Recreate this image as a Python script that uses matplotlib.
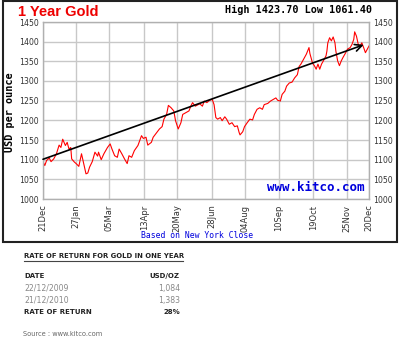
import matplotlib
matplotlib.use("Agg")
import matplotlib.pyplot as plt
from matplotlib.patches import Rectangle
from matplotlib.lines import Line2D

# days since 21 Dec 2009, and the New York close (USD/oz)
days = [0, 2, 4, 7, 9, 12, 15, 18, 20, 22, 25, 27, 29, 31, 32, 35, 37, 40, 43, 46,
        48, 50, 52, 55, 58, 61, 62, 65, 68, 72, 75, 77, 80, 83, 85, 88, 91, 94, 96, 99,
        102, 106, 110, 112, 115, 117, 121, 123, 127, 130, 133, 135, 138, 140, 143, 146,
        148, 151, 154, 156, 160, 163, 165, 167, 170, 175, 178, 180, 183, 186, 189, 191,
        193, 195, 198, 200, 203, 205, 208, 211, 214, 217, 219, 220, 223, 225, 228, 231,
        234, 236, 239, 242, 245, 247, 251, 254, 257, 260, 262, 265, 267, 270, 272, 275,
        278, 281, 284, 286, 288, 294, 297, 298, 301, 303, 305, 307, 309, 311, 313, 316,
        317, 318, 320, 322, 324, 326, 327, 329, 331, 333, 335, 338, 340, 343, 345, 347,
        348, 350, 352, 354, 356, 358, 360, 363, 364]
price = [1095, 1085, 1098, 1104, 1095, 1102, 1115, 1137, 1131, 1152, 1136, 1144, 1127,
         1131, 1102, 1094, 1090, 1083, 1115, 1085, 1064, 1066, 1081, 1095, 1119, 1109,
         1119, 1100, 1115, 1131, 1140, 1127, 1110, 1106, 1127, 1115, 1102, 1090, 1110,
         1106, 1123, 1136, 1161, 1154, 1157, 1137, 1144, 1157, 1169, 1178, 1184, 1203,
         1215, 1238, 1232, 1224, 1199, 1178, 1194, 1215, 1220, 1224, 1236, 1245, 1236,
         1242, 1236, 1249, 1245, 1251, 1253, 1240, 1207, 1203, 1207, 1199, 1209, 1203,
         1190, 1194, 1184, 1186, 1169, 1163, 1171, 1184, 1194, 1203, 1201, 1215, 1228,
         1232, 1228, 1240, 1243, 1249, 1253, 1257, 1251, 1249, 1266, 1274, 1287, 1295,
         1297, 1308, 1316, 1337, 1343, 1368, 1385, 1370, 1345, 1339, 1330, 1343, 1330,
         1343, 1351, 1364, 1376, 1397, 1410, 1402, 1412, 1397, 1376, 1351, 1339, 1351,
         1360, 1372, 1381, 1385, 1393, 1406, 1425, 1414, 1393, 1389, 1397, 1385, 1372,
         1385, 1389]

tick_days = [0, 37, 74, 113, 150, 189, 226, 263, 302, 339, 364]
tick_labels = ["21Dec", "27Jan", "05Mar", "13Apr", "20May", "28Jun",
               "04Aug", "10Sep", "19Oct", "25Nov", "20Dec"]
y_ticks = [1000, 1050, 1100, 1150, 1200, 1250, 1300, 1350, 1400, 1450]

trend_start = (0, 1101)
trend_end = (358, 1392)

table_rows = [("DATE", "USD/OZ"), ("22/12/2009", "1,084"),
              ("21/12/2010", "1,383"), ("RATE OF RETURN", "28%")]

W, H = 400, 350
fig = plt.figure(figsize=(4, 3.5), dpi=100)


def fx(px):
    return px / W


def fy(py):
    return 1 - py / H


ax = fig.add_axes([fx(43), fy(199), fx(369) - fx(43), fy(22) - fy(199)])
ax.plot(days, price, color="#ff0000", lw=0.8)
ax.annotate("", xy=trend_end, xytext=trend_start,
            arrowprops=dict(arrowstyle="->,head_length=0.5,head_width=0.25",
                            color="black", lw=1.2, shrinkA=0, shrinkB=0))
ax.set_xlim(0, 364)
ax.set_ylim(1000, 1450)
ax.set_xticks(tick_days)
ax.set_xticklabels(tick_labels, rotation=90, fontsize=6, color="#333333")
ax.set_yticks(y_ticks)
ax.tick_params(axis="y", labelsize=5.6, labelcolor="#333333", labelright=True, length=0, pad=3)
ax.tick_params(axis="x", length=0, pad=4)
ax.grid(True, color="#c8c8c8", lw=1)
ax.set_axisbelow(True)
for s in ax.spines.values():
    s.set_color("#b0b0b0")
    s.set_linewidth(1)

ax.text(0.985, 0.03, "www.kitco.com", transform=ax.transAxes, ha="right", va="bottom",
        color="#0000dd", fontsize=9, family="DejaVu Sans Mono", fontweight="bold")

# frame around the chart
fig.patches.append(Rectangle((fx(3), fy(242)), fx(394), fy(1) - fy(242), transform=fig.transFigure,
                             fill=False, edgecolor="#222222", lw=1.5))

fig.text(fx(18), fy(12), "1 Year Gold", color="#ee0000", fontsize=10.5, fontweight="bold",
         family="Liberation Sans", va="center", ha="left")
fig.text(fx(372), fy(10), "High 1423.70 Low 1061.40", fontsize=7.3, fontweight="bold",
         family="DejaVu Sans Mono", va="center", ha="right")
fig.text(fx(10), fy(112), "USD per ounce", rotation=90, fontsize=7.3, fontweight="bold",
         family="DejaVu Sans Mono", va="center", ha="center")
fig.text(fx(197), fy(236), "Based on New York Close", color="#0000dd", fontsize=5.9,
         family="DejaVu Sans Mono", va="center", ha="center")

# table below the chart
fig.text(fx(24), fy(256), "RATE OF RETURN FOR GOLD IN ONE YEAR", fontsize=4.95, fontweight="bold",
         family="DejaVu Sans", va="center", ha="left", color="#222222")
fig.add_artist(Line2D([fx(24), fx(183)], [fy(261), fy(261)], color="#444444", lw=0.8))
row_y = [276, 288, 300, 312]
for (left, right), yy in zip(table_rows, row_y):
    bold = left in ("DATE", "RATE OF RETURN")
    col = "#222222" if bold else "#888888"
    fig.text(fx(24), fy(yy), left, fontsize=5.0 if bold else 5.6,
             fontweight="bold" if bold else "normal",
             family="DejaVu Sans", va="center", ha="left", color=col)
    strong = bold or right.endswith("%")
    fig.text(fx(180), fy(yy), right, fontsize=5.0 if strong else 5.6,
             fontweight="bold" if strong else "normal",
             family="DejaVu Sans", va="center", ha="right",
             color="#222222" if strong else "#888888")
fig.text(fx(23), fy(334), "Source : www.kitco.com", fontsize=4.8, family="DejaVu Sans",
         va="center", ha="left", color="#666666")

fig.savefig("out.png", dpi=100, facecolor="white")
